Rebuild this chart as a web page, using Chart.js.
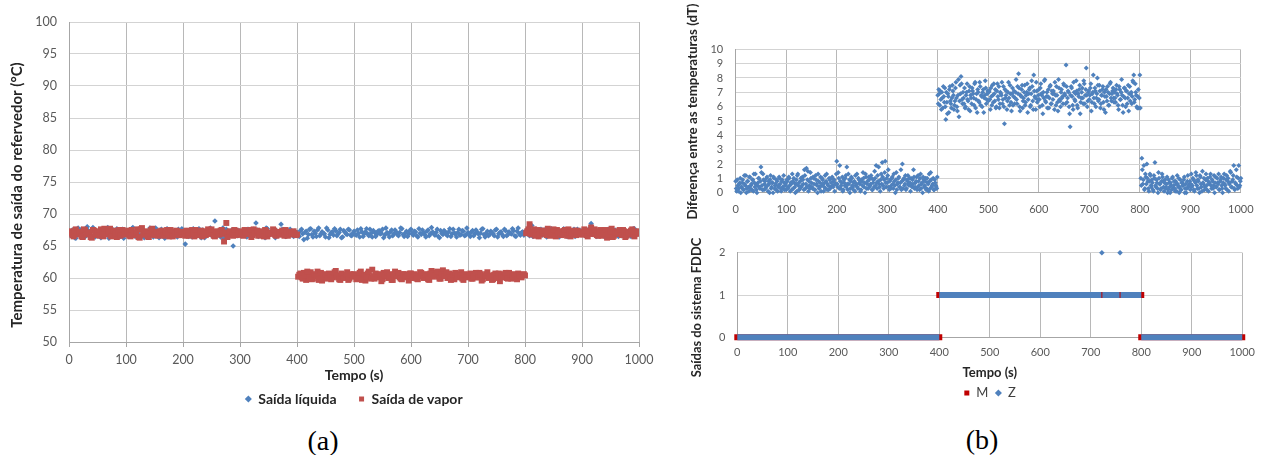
<!DOCTYPE html>
<html lang="pt">
<head>
<meta charset="utf-8">
<title>Temperaturas do refervedor e saídas do sistema FDDC</title>
<script src="https://cdn.jsdelivr.net/npm/chart.js@4/dist/chart.umd.min.js"></script>
<style>
  html, body { margin: 0; padding: 0; background: #fff; }
  body { width: 1264px; height: 455px; position: relative; overflow: hidden; }
  canvas { position: absolute; }
  .rotulo { position: absolute; font-family: "Liberation Serif", "Times New Roman", serif;
            font-size: 28px; color: #000; transform: translate(-50%, -50%); white-space: nowrap; }
</style>
</head>
<body>
<canvas id="graficoA" width="660" height="420" style="left:0;top:0"></canvas>
<canvas id="graficoDT" width="584" height="220" style="left:680px;top:0"></canvas>
<canvas id="graficoFDDC" width="584" height="200" style="left:680px;top:220px"></canvas>
<div class="rotulo" style="left:323px;top:441px">(a)</div>
<div class="rotulo" style="left:982px;top:440px">(b)</div>

<script>
// ---------- (a) temperaturas de saída do refervedor ----------
// amostras em t = 0, 4, 8, ... s
const passoA = 4;
const saidaLiquida = [
  67.1,66.6,67.4,66.2,67.8,66.9,67.3,66.4,68.0,67.0,66.5,67.6,66.8,67.2,66.3,67.5,66.7,67.9,66.6,67.1,66.4,67.7,66.9,67.3,66.2,
  67.4,66.8,67.0,67.9,66.5,67.2,66.7,67.6,66.3,67.1,66.9,67.5,66.4,67.8,67.0,66.6,67.3,66.2,67.7,66.9,67.4,66.5,67.1,67.6,66.8,
  67.2,65.3,66.8,67.5,66.4,67.1,66.9,67.7,66.3,67.4,66.6,67.0,67.8,66.5,68.9,67.2,66.7,67.4,66.2,67.6,66.9,67.1,65.0,67.3,66.6,
  67.0,66.7,67.5,66.4,67.2,66.9,67.6,68.6,66.5,67.3,67.0,66.3,67.7,66.8,67.1,66.6,67.4,66.9,68.4,67.2,66.5,67.0,67.6,66.7,67.3,
  67.1,66.5,67.6,66.0,67.3,66.8,67.7,66.4,67.0,67.5,66.6,67.2,66.9,67.8,66.3,67.1,66.7,67.4,66.9,67.6,66.4,67.2,66.8,67.5,66.6,
  67.3,66.7,67.0,67.7,66.5,67.2,66.9,67.6,66.4,67.1,66.8,67.4,67.0,66.3,67.8,66.9,67.2,66.6,67.5,66.8,67.1,67.7,66.5,67.3,66.9,
  67.6,66.7,67.2,66.4,67.0,67.5,66.8,67.3,66.6,67.9,66.9,67.1,66.5,67.4,66.8,67.2,66.6,67.7,66.9,67.0,66.4,67.6,66.8,67.3,66.7,
  67.1,66.5,67.4,66.9,67.2,66.3,67.6,66.8,67.0,66.6,67.3,66.9,67.5,66.4,67.1,66.8,67.6,66.6,67.2,66.9,67.4,66.5,67.8,66.7,67.2,
  67.0,67.5,66.6,68.2,66.9,67.3,66.5,67.6,66.8,67.1,67.4,66.7,67.2,66.9,67.5,66.4,67.0,67.7,66.6,67.3,66.8,67.1,66.5,67.6,66.9,
  67.2,66.7,67.4,66.9,68.5,67.1,66.6,67.3,66.8,67.5,66.4,67.2,66.9,67.6,66.7,67.0,66.5,67.4,66.8,67.1,66.6,67.3,66.9,67.7,66.8,67.2
];
const saidaVapor = [
  67.3,67.0,66.5,67.6,66.8,67.2,66.4,67.5,66.9,67.1,66.3,67.4,66.7,67.0,67.6,66.5,67.3,66.9,67.7,66.6,67.1,66.4,67.5,66.8,67.2,
  66.9,67.4,66.5,67.1,66.7,67.6,66.3,67.8,66.8,67.0,66.4,67.5,66.9,67.2,66.6,67.3,66.8,67.0,67.5,66.5,67.2,66.9,67.4,66.7,67.1,
  67.0,66.6,67.3,66.9,67.5,66.5,67.2,66.8,67.4,67.0,66.7,67.6,66.9,67.1,66.5,67.3,66.8,67.5,65.7,68.6,66.9,67.2,66.6,67.4,66.8,
  67.1,66.7,67.5,66.9,67.2,66.4,67.6,67.0,66.6,67.3,66.8,67.5,66.5,67.1,66.9,67.4,66.6,67.2,66.8,67.0,67.5,66.6,67.2,66.8,67.0,
  66.8,60.5,60.1,60.8,59.7,60.4,60.9,59.9,60.3,61.0,60.2,59.6,60.6,60.0,60.7,59.8,60.4,61.1,60.1,59.7,60.5,60.2,60.9,59.9,60.3,
  60.6,59.8,60.2,61.0,60.4,59.6,60.7,60.1,61.3,59.9,60.5,60.2,59.5,60.8,60.3,60.0,60.6,59.7,61.0,60.4,60.1,59.8,60.6,60.2,59.6,
  60.7,60.0,60.4,59.8,60.9,60.3,60.1,60.6,59.7,61.1,60.4,60.8,60.2,59.9,61.2,60.5,60.0,60.7,60.3,59.8,60.6,60.1,60.9,59.7,60.4,
  60.2,60.7,59.9,60.5,60.1,60.8,59.6,60.3,60.6,60.0,60.4,59.8,60.7,60.2,59.5,60.6,60.3,60.0,60.8,59.9,60.4,60.1,60.7,60.2,60.5,
  60.4,67.3,68.4,66.8,67.6,67.0,66.5,67.4,66.9,67.2,67.7,66.6,67.1,66.8,67.5,67.0,66.7,67.3,66.9,67.6,66.5,67.2,67.0,67.4,66.8,
  67.1,67.6,66.7,67.3,67.9,66.9,67.2,66.6,67.5,66.8,67.4,66.3,67.1,67.7,66.6,67.3,66.9,67.0,67.5,66.4,67.2,66.8,67.6,66.5,67.3,67.0
];
// amostras intermediárias em t = 2, 6, 10, ... s
const saidaLiquidaInter = [
  66.9,67.5,66.3,67.2,66.8,67.6,66.5,67.0,67.4,66.7,67.9,66.4,67.1,66.6,67.3,66.9,67.7,66.2,67.0,67.5,66.8,67.2,66.5,67.6,66.9,
  67.3,66.6,67.7,66.9,67.1,66.4,67.5,66.8,67.2,66.5,67.8,67.0,66.7,67.4,66.3,67.6,66.9,67.1,66.6,67.5,66.8,67.3,66.4,67.0,67.7,
  66.8,67.4,66.5,67.1,67.7,66.6,67.2,66.9,67.5,66.3,67.0,67.6,66.7,67.3,66.9,67.1,66.4,67.8,66.8,67.2,66.6,67.5,66.9,67.0,67.4,
  66.6,67.3,66.8,67.6,66.4,67.1,66.9,67.5,66.7,67.2,66.5,67.8,66.9,67.0,67.4,66.3,67.2,66.8,67.6,66.6,67.1,66.9,67.3,66.5,67.0,
  66.7,67.4,66.9,67.1,66.2,67.6,66.8,67.3,66.5,67.8,66.9,67.0,66.4,67.5,66.8,67.2,67.7,66.6,67.1,66.3,67.4,66.9,67.6,66.7,67.0,
  66.8,67.5,66.4,67.2,66.9,67.7,66.6,67.0,67.4,66.5,67.3,66.9,67.6,66.7,67.1,66.4,67.5,66.9,67.2,66.6,67.8,66.8,67.0,66.5,67.4,
  66.9,67.3,66.6,67.7,66.8,67.1,66.4,67.5,66.9,67.2,66.7,67.6,66.3,67.0,67.4,66.8,67.2,66.5,67.6,66.9,67.1,66.7,67.4,66.6,67.8,
  66.8,67.2,66.6,67.5,66.9,67.0,67.7,66.4,67.3,66.8,67.1,66.6,67.6,66.9,67.2,66.5,67.4,66.8,67.0,67.7,66.6,67.3,66.9,67.1,66.7,
  67.4,66.8,67.1,66.5,67.6,66.9,67.2,66.7,67.5,66.4,67.0,67.7,66.8,67.3,66.6,67.1,66.9,67.5,66.5,67.2,66.8,67.6,66.7,67.0,67.4,
  66.9,67.3,66.6,67.8,66.8,67.1,66.5,67.4,66.9,67.2,66.7,67.6,66.4,67.0,67.5,66.8,67.2,66.6,67.4,66.9,67.1,66.5,67.7,66.8,67.3
];
const saidaVaporInter = [
  67.0,66.7,67.4,66.9,67.2,66.5,67.6,66.8,67.1,66.4,67.5,66.9,67.3,66.6,67.0,67.7,66.8,67.2,66.5,67.4,66.9,67.1,66.6,67.5,66.8,
  67.2,66.6,67.5,66.9,67.1,66.4,67.6,66.8,67.3,66.5,67.0,67.7,66.7,67.2,66.9,67.4,66.6,67.1,66.8,67.5,66.5,67.0,67.3,66.7,67.2,
  66.8,67.4,66.6,67.1,66.9,67.5,66.7,67.2,66.5,67.3,66.9,67.0,67.6,66.6,67.2,66.8,67.4,66.9,67.1,66.4,67.3,66.8,67.5,66.7,67.0,
  67.3,66.6,67.1,66.9,67.5,66.7,67.0,67.4,66.8,67.2,66.5,67.3,66.9,67.0,67.6,66.7,67.1,66.8,67.4,66.6,67.2,66.9,67.0,67.3,66.7,
  60.2,60.7,59.9,60.4,61.0,60.1,59.8,60.6,60.3,59.7,60.8,60.2,60.5,59.9,60.6,60.1,60.9,60.4,59.8,60.7,60.0,60.5,59.7,60.6,60.2,
  60.4,60.0,60.8,59.7,60.5,60.2,61.0,59.9,60.3,60.7,60.1,60.6,59.8,60.4,60.9,60.2,59.7,60.5,60.3,60.8,59.9,60.6,60.1,60.4,60.7,
  60.1,60.6,59.9,60.3,60.8,60.0,60.5,59.8,60.7,60.2,60.4,61.0,59.9,60.6,60.3,60.9,60.1,59.7,60.5,60.8,60.2,60.4,59.9,60.6,60.1,
  60.5,59.9,60.3,60.8,60.1,60.6,59.8,60.4,60.9,60.2,59.7,60.5,60.0,60.7,60.3,60.1,60.8,59.9,60.5,60.2,60.6,59.8,60.4,60.1,60.6,
  67.0,67.6,66.9,67.3,66.6,67.5,66.8,67.1,67.4,66.7,67.2,66.9,67.6,66.5,67.0,67.3,66.8,67.5,66.6,67.1,66.9,67.4,66.7,67.2,67.0,
  66.8,67.4,66.5,67.1,66.9,67.6,66.7,67.3,66.6,67.0,67.5,66.8,67.2,66.4,67.1,66.9,67.5,66.7,67.3,66.6,67.0,67.4,66.8,67.2,66.9
];

// ---------- (b) diferença entre as temperaturas ----------
// amostras em t = 0, 2, 4, ... s
const passoDT = 2;
const diferencaDT = [
  0.8,0.1,0.5,0.3,0.7,0.0,0.4,0.9,0.2,0.6,1.2,0.3,0.8,0.1,1.1,0.5,0.2,0.9,1.3,0.4,0.6,0.0,0.7,1.0,0.3,
  1.8,0.5,1.3,0.2,0.8,0.4,1.1,0.1,0.6,0.9,0.3,0.7,0.0,1.0,0.5,0.2,0.8,0.4,1.1,0.6,0.1,0.9,0.3,0.7,0.5,
  0.2,0.8,0.4,1.0,0.1,0.6,1.3,0.3,0.7,0.0,0.9,1.2,0.5,0.2,0.8,0.4,1.1,0.6,1.6,0.3,1.7,0.9,0.1,0.5,1.4,
  0.7,0.3,1.0,0.2,1.2,0.6,0.0,0.8,0.4,1.1,0.5,0.9,0.1,0.7,0.3,1.3,0.6,0.2,0.9,0.4,1.0,0.5,0.8,0.1,0.6,
  2.2,0.4,1.0,1.9,0.3,0.7,0.1,0.9,0.5,1.2,1.8,0.2,0.6,0.0,0.8,1.0,0.4,0.7,0.1,0.5,1.3,0.3,0.9,0.6,0.2,
  0.8,1.4,0.4,0.0,1.1,0.6,0.3,0.9,0.5,1.2,0.2,0.7,0.4,1.0,1.9,0.3,0.8,0.6,0.1,1.3,2.1,0.5,0.9,2.2,0.4,
  0.7,1.6,0.2,0.9,0.5,1.1,0.3,0.8,0.0,1.4,0.6,1.0,0.4,0.7,0.2,2.0,0.9,0.5,1.2,0.3,0.8,0.6,1.0,0.1,0.5,
  0.9,1.6,0.3,0.7,1.1,0.4,0.8,0.2,1.3,0.6,0.0,0.9,0.5,1.0,0.3,0.7,0.1,0.8,1.4,0.4,0.6,0.2,0.9,0.5,0.3,
  6.8,7.2,6.1,6.5,7.0,5.9,6.7,7.3,5.1,6.3,6.9,5.6,7.4,6.2,6.6,7.1,5.8,6.4,7.7,6.0,6.8,5.3,7.5,8.1,6.5,
  7.0,6.2,5.9,6.8,7.6,6.4,7.1,5.7,6.6,7.3,6.9,6.1,7.7,6.5,5.6,7.0,6.3,7.4,6.8,6.0,7.2,6.6,7.8,6.2,6.9,
  6.4,7.1,5.8,6.7,7.5,6.3,6.9,7.2,6.0,7.6,6.5,5.9,7.0,6.8,6.2,7.4,4.8,6.6,7.1,6.4,7.7,6.1,6.9,5.7,7.3,
  6.7,6.2,7.0,6.5,7.4,8.3,6.0,6.8,7.2,5.9,6.6,7.5,6.3,7.0,5.6,6.9,7.3,6.1,7.8,6.4,8.2,6.7,5.8,7.1,6.5,
  7.2,6.0,7.6,6.8,5.5,6.6,7.9,6.3,7.0,6.7,5.9,7.4,6.2,7.1,6.5,6.9,7.7,6.1,6.8,5.7,7.3,6.4,7.0,6.6,6.2,
  7.5,6.8,8.9,6.3,7.1,6.0,4.6,7.4,6.7,5.8,7.0,6.4,7.8,6.1,6.9,7.2,5.5,6.6,7.3,6.2,7.6,6.8,8.7,6.0,7.0,
  6.5,7.3,5.7,6.9,8.2,6.2,7.1,6.6,8.0,6.4,7.5,5.9,6.8,7.2,6.3,7.0,5.6,6.7,7.4,6.1,6.9,7.7,6.4,7.1,6.6,
  7.0,6.3,7.5,6.8,5.8,7.2,6.5,7.9,6.1,6.7,7.3,6.0,7.1,6.6,5.7,7.4,6.9,6.2,7.8,8.2,6.5,7.0,6.0,6.7,5.9,
  8.2,1.0,2.4,0.6,1.9,0.3,1.1,2.0,0.8,0.1,1.3,0.5,0.9,0.2,1.2,2.1,0.4,0.7,0.0,1.0,0.6,0.3,1.3,0.8,0.1,
  0.9,0.4,1.1,0.2,0.7,0.0,0.5,1.0,0.3,0.8,0.1,0.6,1.2,0.4,0.0,0.9,0.2,0.7,0.5,1.1,0.3,0.0,0.8,0.4,0.6,
  0.2,1.3,0.5,0.9,0.1,0.7,1.2,0.3,0.8,0.0,1.1,0.4,1.5,0.6,0.2,0.9,0.5,1.0,0.1,0.7,1.3,0.3,0.8,0.5,0.0,
  1.1,0.4,0.7,1.3,0.2,0.9,0.5,0.0,1.0,0.6,0.3,1.2,0.8,0.1,0.7,1.4,0.4,0.9,1.9,0.2,0.6,1.1,0.3,1.9,0.5,1.0
];
// amostras em t = 1, 3, 5, ... s
const diferencaDTInter = [
  0.3,0.9,0.1,0.6,1.0,0.4,0.7,0.2,1.2,0.5,0.0,0.8,0.4,1.1,0.3,0.6,0.9,0.1,0.7,1.3,0.2,0.5,1.0,0.4,0.8,
  1.4,0.2,0.9,0.6,0.3,1.0,0.5,0.8,0.0,1.2,0.4,0.7,1.1,0.3,0.6,0.9,0.1,0.5,1.0,0.3,0.8,0.4,1.2,0.2,0.6,
  0.9,0.3,1.1,0.5,0.7,0.2,0.8,1.0,0.4,0.6,0.1,1.3,0.7,0.3,1.0,0.5,0.9,0.2,1.2,0.6,0.4,1.5,0.8,0.3,1.0,
  0.4,1.1,0.6,0.2,0.9,0.5,1.3,0.3,0.7,0.1,1.0,0.6,0.4,1.2,0.8,0.2,0.5,1.0,0.3,0.7,1.1,0.4,0.9,0.6,1.3,
  0.6,1.4,0.3,0.8,0.5,1.1,0.2,0.7,1.0,0.4,0.6,1.3,0.9,0.3,1.1,0.5,0.2,0.8,1.2,0.6,0.4,1.0,0.7,0.1,0.9,
  0.5,1.0,0.7,1.3,0.3,0.8,1.1,0.4,0.6,1.0,0.2,0.9,1.5,0.5,0.7,1.2,1.8,0.4,0.9,0.6,1.1,0.3,1.4,0.7,1.0,
  1.2,0.4,0.8,0.3,1.0,0.6,1.3,0.5,0.9,0.2,0.7,1.1,0.4,1.6,0.8,0.3,1.0,0.6,0.2,0.9,1.2,0.5,0.7,1.0,0.4,
  0.6,1.1,0.4,0.8,0.2,1.2,0.5,1.0,0.3,0.7,1.1,0.4,0.8,0.2,1.0,0.6,1.3,0.3,0.9,0.5,1.0,0.2,0.7,0.4,1.1,
  6.2,6.9,7.1,5.8,6.6,7.4,6.3,6.0,7.0,5.5,6.7,7.2,6.4,5.9,7.5,6.8,6.1,7.3,6.6,5.7,7.9,6.4,6.9,7.6,6.2,
  6.6,7.3,6.0,7.0,6.5,5.8,7.4,6.8,6.2,7.1,6.6,7.6,5.9,6.9,7.2,6.4,7.7,6.1,6.7,7.0,5.6,6.8,7.3,6.5,7.1,
  7.0,6.5,7.3,6.1,6.8,7.6,6.4,5.9,7.1,6.7,7.4,6.2,6.9,7.7,6.5,6.0,7.2,6.8,5.8,7.0,6.6,7.5,6.3,6.9,6.1,
  7.1,6.6,7.9,6.2,6.9,7.3,5.7,6.7,7.5,6.4,7.0,6.1,6.8,7.6,6.5,7.2,6.0,6.9,7.4,5.8,7.1,6.6,7.7,6.3,6.8,
  6.5,7.3,6.9,6.1,7.0,7.8,6.4,6.7,5.9,7.2,6.6,7.5,6.2,6.9,7.1,5.8,6.8,7.4,6.3,7.9,6.5,6.0,7.2,6.7,7.6,
  6.9,6.2,7.4,6.6,7.0,5.5,6.8,7.3,6.1,7.7,6.5,6.9,7.1,5.9,6.7,7.5,6.3,7.0,6.6,7.8,6.2,7.2,6.8,6.4,7.1,
  6.8,7.6,6.3,7.0,6.6,7.3,6.0,6.9,7.5,6.5,7.1,6.2,6.8,7.4,5.8,6.7,7.2,6.4,7.0,6.1,7.6,6.6,6.9,7.3,6.3,
  6.6,7.2,6.9,6.1,7.4,6.5,7.0,6.8,5.6,7.3,6.6,7.1,6.2,7.5,6.9,6.4,7.0,6.7,7.7,6.3,7.6,6.8,5.9,7.2,6.6,
  5.9,0.5,1.6,0.9,0.2,1.3,0.6,1.0,0.3,0.8,1.2,0.4,0.7,0.1,1.0,0.5,0.9,0.3,1.4,0.6,0.2,0.8,1.1,0.4,0.7,
  0.3,0.6,0.0,0.9,0.4,0.7,0.2,1.1,0.5,0.3,0.8,0.1,0.6,1.0,0.4,0.2,0.7,0.5,0.9,0.0,0.6,0.3,1.2,0.5,0.8,
  0.6,0.4,1.0,0.2,0.8,1.4,0.5,0.9,0.3,1.2,0.6,0.1,0.7,1.0,0.4,1.3,0.2,0.8,0.6,1.1,0.5,0.9,0.3,1.2,0.7,
  0.4,1.0,0.6,0.2,0.8,1.1,0.3,0.7,1.3,0.5,0.9,0.2,1.0,0.6,1.5,0.4,0.8,1.2,0.3,0.7,1.6,0.5,1.0,0.4,0.8
];

// ---------- (b) saídas do sistema FDDC: trechos [início, fim, nível] ----------
const trechosM = [[0, 400, 0], [400, 800, 1], [800, 1000, 0]];
const trechosZ = [[0, 400, 0], [400, 721, 1], [723, 757, 1], [759, 800, 1], [800, 1000, 0]];
const picosZ = [[722, 2], [758, 2]];

// ---------- estilo ----------
const azul = '#4F81BD';
const vermelho = '#C0504D';
const vermelhoM = '#C00000';
const corTicks = '#595959';
const corTitulo = '#262626';
const gradeV = '#B8B8B8';
const gradeH = '#D3D3D3';
const eixo = '#A6A6A6';

Chart.defaults.font.family = 'Lato, "Open Sans", "DejaVu Sans", sans-serif';
Chart.defaults.color = corTicks;

function pontos(valores, passo, inicio = 0) {
  return valores.map((v, i) => ({ x: inicio + i * passo, y: v }));
}
// cada trecho vira um segmento de reta; um ponto com y nulo interrompe a linha
function pontosTrechos(trechos, picos) {
  const saida = [];
  trechos.forEach(([ini, fim, nivel]) => {
    saida.push({ x: ini, y: nivel }, { x: fim, y: nivel }, { x: fim, y: null });
  });
  (picos || []).forEach(([t, nivel]) => saida.push({ x: t, y: nivel }, { x: t, y: null }));
  return saida;
}
const rotuloNumero = v => String(v);
const ordemDatasets = (a, b) => a.datasetIndex - b.datasetIndex;

// título do eixo y, escrito na vertical
const tituloVertical = {
  id: 'tituloVertical',
  afterDraw(chart, args, o) {
    const ctx = chart.ctx;
    ctx.save();
    ctx.translate(o.x, o.y);
    ctx.rotate(-Math.PI / 2);
    ctx.font = o.font;
    ctx.fillStyle = o.color || corTitulo;
    ctx.textAlign = 'center';
    ctx.textBaseline = 'middle';
    ctx.fillText(o.text, 0, 0);
    ctx.restore();
  }
};

function escalaX(opts) {
  return Object.assign({
    type: 'linear', min: 0, max: 1000,
    ticks: { stepSize: 100, color: corTicks, font: { size: 11 }, padding: 10, callback: rotuloNumero },
    grid: { color: gradeV, drawTicks: false },
    border: { color: eixo }
  }, opts);
}

// ---------- gráfico (a) ----------
new Chart(document.getElementById('graficoA'), {
  type: 'scatter',
  data: {
    datasets: [
      { label: 'Saída líquida', order: 2,
        data: pontos(saidaLiquida, passoA).concat(pontos(saidaLiquidaInter, passoA, passoA / 2)),
        pointStyle: 'rectRot', pointRadius: 2.8, pointHoverRadius: 2.8,
        backgroundColor: azul, borderColor: azul, pointBorderWidth: 0 },
      { label: 'Saída de vapor', order: 1,
        data: pontos(saidaVapor, passoA).concat(pontos(saidaVaporInter, passoA, passoA / 2)),
        pointStyle: 'rect', pointRadius: 4.2, pointHoverRadius: 4.2,
        backgroundColor: vermelho, borderColor: vermelho, pointBorderWidth: 0 }
    ]
  },
  plugins: [tituloVertical],
  options: {
    responsive: false, animation: false, events: [],
    layout: { padding: { left: 0, right: 21, top: 22, bottom: 4 } },
    plugins: {
      tooltip: { enabled: false },
      legend: {
        position: 'bottom', fullSize: false,
        labels: { usePointStyle: true, boxWidth: 6, boxHeight: 5, padding: 22, sort: ordemDatasets,
                  color: corTitulo, font: { size: 14, weight: 'bold' } }
      },
      tituloVertical: { text: 'Temperatura de saída do refervedor (°C)', x: 17, y: 195,
                        font: 'bold 15px Lato, "Open Sans", sans-serif' }
    },
    scales: {
      x: escalaX({
        ticks: { stepSize: 100, color: corTicks, font: { size: 12.5 }, padding: 5, callback: rotuloNumero },
        grid: { color: gradeV, drawTicks: true, tickLength: 5, tickColor: eixo },
        title: { display: true, text: 'Tempo (s)', color: corTitulo,
                 font: { size: 14, weight: 'bold' }, padding: { top: 0, bottom: -13.4 } },
        afterFit: s => { s.height = 28; }
      }),
      y: {
        min: 50, max: 100,
        ticks: { stepSize: 5, color: corTicks, font: { size: 12.5 }, padding: 12, autoSkip: false },
        grid: { color: gradeH, drawTicks: false },
        border: { color: eixo },
        afterFit: s => { s.width = 69; }
      }
    }
  }
});

// ---------- gráfico (b), diferença de temperaturas ----------
new Chart(document.getElementById('graficoDT'), {
  type: 'scatter',
  data: {
    datasets: [
      { label: 'dT', clip: false,
        data: pontos(diferencaDT, passoDT).concat(pontos(diferencaDTInter, passoDT, passoDT / 2)),
        pointStyle: 'rectRot', pointRadius: 2.5, pointHoverRadius: 2.5,
        backgroundColor: azul, borderColor: azul, pointBorderWidth: 0 }
    ]
  },
  plugins: [tituloVertical],
  options: {
    responsive: false, animation: false, events: [],
    layout: { padding: { left: 0, right: 13.3, top: 49.3, bottom: 0 } },
    plugins: {
      tooltip: { enabled: false },
      legend: { display: false },
      tituloVertical: { text: 'Diferença entre as temperaturas (dT)', x: 13, y: 111.5,
                        font: 'bold 13.3px Lato, "Open Sans", sans-serif' }
    },
    scales: {
      x: escalaX({
        ticks: { stepSize: 100, color: corTicks, font: { size: 11 }, padding: 10.4, callback: rotuloNumero },
        afterFit: s => { s.height = 27.3; }
      }),
      y: {
        min: 0, max: 10,
        ticks: { stepSize: 1, color: corTicks, font: { size: 11 }, padding: 12.5, autoSkip: false },
        grid: { color: gradeH, drawTicks: false },
        border: { color: eixo },
        afterFit: s => { s.width = 55.7; }
      }
    }
  }
});

// ---------- gráfico (b), saídas M e Z ----------
const zPicos = new Set(picosZ.map(p => p[0]));
new Chart(document.getElementById('graficoFDDC'), {
  type: 'scatter',
  data: {
    datasets: [
      { label: 'M', data: pontosTrechos(trechosM), order: 2, clip: false,
        showLine: true, spanGaps: false, borderColor: vermelhoM, borderWidth: 6,
        borderCapStyle: 'square', backgroundColor: vermelhoM,
        pointStyle: 'rect', pointRadius: 0, pointHoverRadius: 0, pointBorderWidth: 0 },
      { label: 'Z', data: pontosTrechos(trechosZ, picosZ), order: 1, clip: false,
        showLine: true, spanGaps: false, borderColor: azul, borderWidth: 6,
        borderCapStyle: 'butt', backgroundColor: azul,
        pointStyle: 'rectRot', pointBorderWidth: 0,
        pointRadius: c => (c.raw && zPicos.has(c.raw.x) && c.raw.y === 2 ? 2.8 : 0),
        pointHoverRadius: 0 }
    ]
  },
  plugins: [tituloVertical],
  options: {
    responsive: false, animation: false, events: [],
    layout: { padding: { left: 0, right: 14.7, top: 32.7, bottom: 10.5 } },
    plugins: {
      tooltip: { enabled: false },
      legend: {
        position: 'bottom', fullSize: false,
        labels: { usePointStyle: true, boxWidth: 6, boxHeight: 5, padding: 7, sort: ordemDatasets,
                  color: '#404040', font: { size: 13 } }
      },
      tituloVertical: { text: 'Saídas do sistema FDDC', x: 17, y: 87.5,
                        font: 'bold 12.9px Lato, "Open Sans", sans-serif' }
    },
    scales: {
      x: escalaX({
        ticks: { stepSize: 100, color: corTicks, font: { size: 11 }, padding: 9, callback: rotuloNumero },
        title: { display: true, text: 'Tempo (s)', color: corTitulo,
                 font: { size: 13, weight: 'bold' }, padding: { top: 0, bottom: -1.3 } },
        afterFit: s => { s.height = 42.2; }
      }),
      y: {
        min: 0, max: 2,
        ticks: { stepSize: 1, color: corTicks, font: { size: 11 }, padding: 12 },
        grid: { color: gradeH, drawTicks: false },
        border: { color: eixo },
        afterFit: s => { s.width = 57.3; }
      }
    }
  }
});
</script>
</body>
</html>
